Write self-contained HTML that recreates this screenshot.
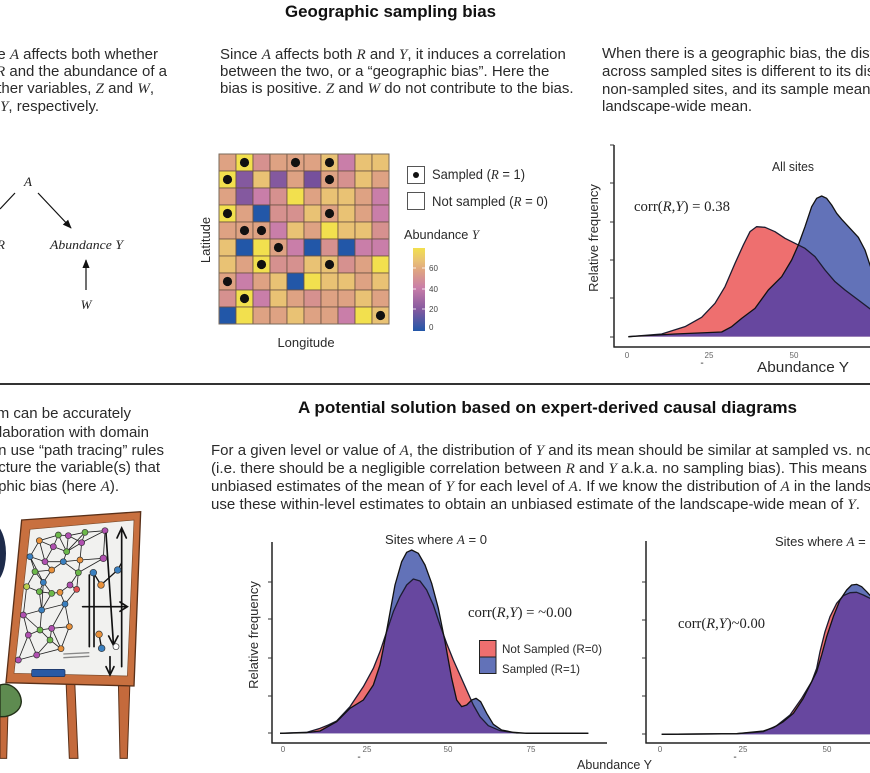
<!DOCTYPE html>
<html><head><meta charset="utf-8"><style>
html,body{margin:0;padding:0;background:#fff;}
svg{display:block;}
.t{font-family:"Liberation Sans",Arial,sans-serif;fill:#2a2a2a;}
.m{font-family:"Liberation Serif",serif;font-style:italic;}
.s{font-family:"Liberation Serif",serif;}
.tk{font-family:"Liberation Sans",Arial,sans-serif;fill:#666;font-size:8px;}
</style></head><body>
<svg width="870" height="773" viewBox="0 0 870 773" xmlns="http://www.w3.org/2000/svg">
<defs>
<marker id="ah" viewBox="0 0 10 10" refX="9" refY="5" markerWidth="9" markerHeight="9" markerUnits="userSpaceOnUse" orient="auto"><path d="M0,1 L10,5 L0,9 z" fill="#111"/></marker>
<linearGradient id="cb" x1="0" y1="1" x2="0" y2="0">
<stop offset="0" stop-color="#2257a8"/><stop offset="0.26" stop-color="#84599f"/><stop offset="0.52" stop-color="#c97ea9"/><stop offset="0.72" stop-color="#dea283"/><stop offset="0.85" stop-color="#e9c274"/><stop offset="1" stop-color="#f2e04e"/>
</linearGradient>
<clipPath id="c1"><path d="M160,620 L260,612 L330,590 L380,562 L420,520 L450,470 L480,400 L505,345 L525,305 L545,290 L570,292 L600,305 L630,325 L660,340 L690,355 L720,380 L750,420 L780,455 L810,480 L850,510 L890,540 L890,620 Z"/></clipPath>
<clipPath id="c2"><path d="M120,625 L200,622 L240,610 L265,600 L290,588 L330,545 L370,485 L400,430 L420,380 L440,320 L460,260 L480,215 L500,180 L520,162 L540,168 L560,195 L580,240 L600,300 L620,355 L640,405 L660,450 L680,495 L700,540 L720,575 L745,602 L780,617 L830,624 L1045,625 Z"/></clipPath>
<clipPath id="c3"><path d="M125,628 L350,626 L430,620 L470,602 L510,570 L545,520 L575,470 L590,430 L600,380 L615,320 L630,275 L650,235 L670,212 L690,203 L710,202 L730,210 L760,225 L760,628 Z"/></clipPath>
</defs>
<rect width="870" height="773" fill="#fff"/>

<text x="285" y="17" font-size="17" font-weight="bold" class="t" style="fill:#111" textLength="211" lengthAdjust="spacingAndGlyphs">Geographic sampling bias</text>

<g class="t" font-size="15">
<text x="158" y="59" text-anchor="end">Here the variable <tspan class="m">A</tspan> affects both whether</text>
<text x="167" y="76" text-anchor="end">a site is sampled <tspan class="m">R</tspan> and the abundance of a</text>
<text x="154" y="93" text-anchor="end">Two other variables, <tspan class="m">Z</tspan> and <tspan class="m">W</tspan>,</text>
<text x="99" y="111" text-anchor="end">affect <tspan class="m">R</tspan> and <tspan class="m">Y</tspan>, respectively.</text>
</g>
<g class="t" font-size="15">
<text x="220" y="59">Since <tspan class="m">A</tspan> affects both <tspan class="m">R</tspan> and <tspan class="m">Y</tspan>, it induces a correlation</text>
<text x="220" y="76">between the two, or a “geographic bias”. Here the</text>
<text x="220" y="93">bias is positive. <tspan class="m">Z</tspan> and <tspan class="m">W</tspan> do not contribute to the bias.</text>
</g>
<g class="t" font-size="15">
<text x="602" y="58">When there is a geographic bias, the distribution of Y</text>
<text x="602" y="76">across sampled sites is different to its distribution at</text>
<text x="602" y="94">non-sampled sites, and its sample mean is biased for the</text>
<text x="602" y="111">landscape-wide mean.</text>
</g>

<text x="28" y="186" font-size="13" class="m" text-anchor="middle" fill="#222">A</text>
<line x1="15" y1="193" x2="0" y2="209" stroke="#111" stroke-width="1.2"/>
<line x1="38" y1="193" x2="71" y2="228" stroke="#111" stroke-width="1.2" marker-end="url(#ah)"/>
<text x="-3" y="249" font-size="13" class="m" fill="#222">R</text>
<text x="50" y="249" font-size="13" class="m" fill="#222" textLength="73" lengthAdjust="spacingAndGlyphs">Abundance Y</text>
<line x1="86" y1="290" x2="86" y2="260" stroke="#111" stroke-width="1.2" marker-end="url(#ah)"/>
<text x="86" y="309" font-size="13" class="m" text-anchor="middle" fill="#222">W</text>

<g stroke="#6b5242" stroke-width="0.8">
<rect x="219" y="154" width="17" height="17" fill="#dea283"/><rect x="236" y="154" width="17" height="17" fill="#f2e04e"/><rect x="253" y="154" width="17" height="17" fill="#d6918f"/><rect x="270" y="154" width="17" height="17" fill="#dea283"/><rect x="287" y="154" width="17" height="17" fill="#dea283"/><rect x="304" y="154" width="17" height="17" fill="#dea283"/><rect x="321" y="154" width="17" height="17" fill="#e9c274"/><rect x="338" y="154" width="17" height="17" fill="#c97ea9"/><rect x="355" y="154" width="17" height="17" fill="#e9c274"/><rect x="372" y="154" width="17" height="17" fill="#e9c274"/>
<rect x="219" y="171" width="17" height="17" fill="#f2e04e"/><rect x="236" y="171" width="17" height="17" fill="#84599f"/><rect x="253" y="171" width="17" height="17" fill="#e9c274"/><rect x="270" y="171" width="17" height="17" fill="#84599f"/><rect x="287" y="171" width="17" height="17" fill="#dea283"/><rect x="304" y="171" width="17" height="17" fill="#76509c"/><rect x="321" y="171" width="17" height="17" fill="#dea283"/><rect x="338" y="171" width="17" height="17" fill="#d6918f"/><rect x="355" y="171" width="17" height="17" fill="#e9c274"/><rect x="372" y="171" width="17" height="17" fill="#dea283"/>
<rect x="219" y="188" width="17" height="17" fill="#dea283"/><rect x="236" y="188" width="17" height="17" fill="#84599f"/><rect x="253" y="188" width="17" height="17" fill="#c97ea9"/><rect x="270" y="188" width="17" height="17" fill="#d6918f"/><rect x="287" y="188" width="17" height="17" fill="#f2e04e"/><rect x="304" y="188" width="17" height="17" fill="#dea283"/><rect x="321" y="188" width="17" height="17" fill="#e9c274"/><rect x="338" y="188" width="17" height="17" fill="#e9c274"/><rect x="355" y="188" width="17" height="17" fill="#dea283"/><rect x="372" y="188" width="17" height="17" fill="#c97ea9"/>
<rect x="219" y="205" width="17" height="17" fill="#f2e04e"/><rect x="236" y="205" width="17" height="17" fill="#dea283"/><rect x="253" y="205" width="17" height="17" fill="#2257a8"/><rect x="270" y="205" width="17" height="17" fill="#d6918f"/><rect x="287" y="205" width="17" height="17" fill="#d6918f"/><rect x="304" y="205" width="17" height="17" fill="#e9c274"/><rect x="321" y="205" width="17" height="17" fill="#dea283"/><rect x="338" y="205" width="17" height="17" fill="#e9c274"/><rect x="355" y="205" width="17" height="17" fill="#dea283"/><rect x="372" y="205" width="17" height="17" fill="#c97ea9"/>
<rect x="219" y="222" width="17" height="17" fill="#dea283"/><rect x="236" y="222" width="17" height="17" fill="#dea283"/><rect x="253" y="222" width="17" height="17" fill="#dea283"/><rect x="270" y="222" width="17" height="17" fill="#c97ea9"/><rect x="287" y="222" width="17" height="17" fill="#e9c274"/><rect x="304" y="222" width="17" height="17" fill="#dea283"/><rect x="321" y="222" width="17" height="17" fill="#f2e04e"/><rect x="338" y="222" width="17" height="17" fill="#e9c274"/><rect x="355" y="222" width="17" height="17" fill="#e9c274"/><rect x="372" y="222" width="17" height="17" fill="#d6918f"/>
<rect x="219" y="239" width="17" height="17" fill="#e9c274"/><rect x="236" y="239" width="17" height="17" fill="#2257a8"/><rect x="253" y="239" width="17" height="17" fill="#f2e04e"/><rect x="270" y="239" width="17" height="17" fill="#dea283"/><rect x="287" y="239" width="17" height="17" fill="#c97ea9"/><rect x="304" y="239" width="17" height="17" fill="#2257a8"/><rect x="321" y="239" width="17" height="17" fill="#d6918f"/><rect x="338" y="239" width="17" height="17" fill="#2257a8"/><rect x="355" y="239" width="17" height="17" fill="#c97ea9"/><rect x="372" y="239" width="17" height="17" fill="#c97ea9"/>
<rect x="219" y="256" width="17" height="17" fill="#e9c274"/><rect x="236" y="256" width="17" height="17" fill="#dea283"/><rect x="253" y="256" width="17" height="17" fill="#f2e04e"/><rect x="270" y="256" width="17" height="17" fill="#d6918f"/><rect x="287" y="256" width="17" height="17" fill="#d6918f"/><rect x="304" y="256" width="17" height="17" fill="#e9c274"/><rect x="321" y="256" width="17" height="17" fill="#e9c274"/><rect x="338" y="256" width="17" height="17" fill="#d6918f"/><rect x="355" y="256" width="17" height="17" fill="#dea283"/><rect x="372" y="256" width="17" height="17" fill="#f2e04e"/>
<rect x="219" y="273" width="17" height="17" fill="#dea283"/><rect x="236" y="273" width="17" height="17" fill="#c97ea9"/><rect x="253" y="273" width="17" height="17" fill="#dea283"/><rect x="270" y="273" width="17" height="17" fill="#e9c274"/><rect x="287" y="273" width="17" height="17" fill="#2257a8"/><rect x="304" y="273" width="17" height="17" fill="#f2e04e"/><rect x="321" y="273" width="17" height="17" fill="#e9c274"/><rect x="338" y="273" width="17" height="17" fill="#e9c274"/><rect x="355" y="273" width="17" height="17" fill="#dea283"/><rect x="372" y="273" width="17" height="17" fill="#e9c274"/>
<rect x="219" y="290" width="17" height="17" fill="#d6918f"/><rect x="236" y="290" width="17" height="17" fill="#f2e04e"/><rect x="253" y="290" width="17" height="17" fill="#c97ea9"/><rect x="270" y="290" width="17" height="17" fill="#e9c274"/><rect x="287" y="290" width="17" height="17" fill="#dea283"/><rect x="304" y="290" width="17" height="17" fill="#d6918f"/><rect x="321" y="290" width="17" height="17" fill="#dea283"/><rect x="338" y="290" width="17" height="17" fill="#dea283"/><rect x="355" y="290" width="17" height="17" fill="#e9c274"/><rect x="372" y="290" width="17" height="17" fill="#dea283"/>
<rect x="219" y="307" width="17" height="17" fill="#2257a8"/><rect x="236" y="307" width="17" height="17" fill="#f2e04e"/><rect x="253" y="307" width="17" height="17" fill="#dea283"/><rect x="270" y="307" width="17" height="17" fill="#dea283"/><rect x="287" y="307" width="17" height="17" fill="#e9c274"/><rect x="304" y="307" width="17" height="17" fill="#dea283"/><rect x="321" y="307" width="17" height="17" fill="#dea283"/><rect x="338" y="307" width="17" height="17" fill="#c97ea9"/><rect x="355" y="307" width="17" height="17" fill="#f2e04e"/><rect x="372" y="307" width="17" height="17" fill="#e9c274"/>
</g>
<rect x="219" y="154" width="170" height="170" fill="none" stroke="#7a6a5a" stroke-width="1"/>
<g fill="#111">
<circle cx="244.5" cy="162.5" r="4.6"/><circle cx="295.5" cy="162.5" r="4.6"/><circle cx="329.5" cy="162.5" r="4.6"/>
<circle cx="227.5" cy="179.5" r="4.6"/><circle cx="329.5" cy="179.5" r="4.6"/>
<circle cx="227.5" cy="213.5" r="4.6"/><circle cx="329.5" cy="213.5" r="4.6"/>
<circle cx="244.5" cy="230.5" r="4.6"/><circle cx="261.5" cy="230.5" r="4.6"/>
<circle cx="278.5" cy="247.5" r="4.6"/>
<circle cx="261.5" cy="264.5" r="4.6"/><circle cx="329.5" cy="264.5" r="4.6"/>
<circle cx="227.5" cy="281.5" r="4.6"/>
<circle cx="244.5" cy="298.5" r="4.6"/>
<circle cx="380.5" cy="315.5" r="4.6"/>
</g>
<text transform="translate(210,240) rotate(-90)" text-anchor="middle" font-size="13" class="t">Latitude</text>
<text x="306" y="347" text-anchor="middle" font-size="13" class="t">Longitude</text>

<rect x="407.5" y="166.5" width="17" height="17" fill="#fff" stroke="#555" stroke-width="1"/>
<circle cx="416" cy="175" r="3" fill="#111"/>
<text x="432" y="179" font-size="14" class="t" textLength="93" lengthAdjust="spacingAndGlyphs">Sampled (<tspan class="m">R</tspan> = 1)</text>
<rect x="407.5" y="192.5" width="17" height="17" fill="#fff" stroke="#555" stroke-width="1"/>
<text x="432" y="206" font-size="14" class="t" textLength="116" lengthAdjust="spacingAndGlyphs">Not sampled (<tspan class="m">R</tspan> = 0)</text>
<text x="404" y="239" font-size="13" class="t" textLength="75" lengthAdjust="spacingAndGlyphs">Abundance <tspan class="m">Y</tspan></text>
<rect x="413" y="248" width="12" height="83" fill="url(#cb)"/>
<g stroke="#fff" stroke-width="0.8"><line x1="413" y1="268" x2="416" y2="268"/><line x1="422" y1="268" x2="425" y2="268"/><line x1="413" y1="289" x2="416" y2="289"/><line x1="422" y1="289" x2="425" y2="289"/><line x1="413" y1="309" x2="416" y2="309"/><line x1="422" y1="309" x2="425" y2="309"/></g>
<g class="tk" font-size="9" style="fill:#444"><text x="429" y="271">60</text><text x="429" y="292">40</text><text x="429" y="312">20</text><text x="429" y="330">0</text></g>

<g transform="translate(575,130) scale(0.333333)">
<path d="M160,620 L260,612 L330,590 L380,562 L420,520 L450,470 L480,400 L505,345 L525,305 L545,290 L570,292 L600,305 L630,325 L660,340 L690,355 L720,380 L750,420 L780,455 L810,480 L850,510 L890,540 L890,620 Z" fill="#ee6f6f"/>
<path d="M160,620 L300,612 L440,606 L470,590 L500,565 L540,535 L580,480 L620,440 L650,390 L670,345 L690,290 L710,230 L725,205 L740,198 L755,205 L770,225 L785,250 L800,268 L825,295 L850,322 L870,360 L890,420 L890,620 Z" fill="#6272b8"/>
<path clip-path="url(#c1)" d="M160,620 L300,612 L440,606 L470,590 L500,565 L540,535 L580,480 L620,440 L650,390 L670,345 L690,290 L710,230 L725,205 L740,198 L755,205 L770,225 L785,250 L800,268 L825,295 L850,322 L870,360 L890,420 L890,620 Z" fill="#67479f"/>
<path d="M160,620 L260,612 L330,590 L380,562 L420,520 L450,470 L480,400 L505,345 L525,305 L545,290 L570,292 L600,305 L630,325 L660,340 L690,355 L720,380 L750,420 L780,455 L810,480 L850,510 L890,540" fill="none" stroke="#1c1c30" stroke-width="1.3" vector-effect="non-scaling-stroke" stroke-linejoin="round"/>
<path d="M160,620 L300,612 L440,606 L470,590 L500,565 L540,535 L580,480 L620,440 L650,390 L670,345 L690,290 L710,230 L725,205 L740,198 L755,205 L770,225 L785,250 L800,268 L825,295 L850,322 L870,360 L890,420" fill="none" stroke="#111" stroke-width="1.3" vector-effect="non-scaling-stroke" stroke-linejoin="round"/>
</g>
<g stroke="#222" stroke-width="1.5" fill="none">
<line x1="614" y1="145" x2="614" y2="347.5"/><line x1="613.5" y1="347" x2="870" y2="347"/>
</g>
<g stroke="#333" stroke-width="1"><line x1="610" y1="145" x2="614" y2="145"/><line x1="610" y1="183" x2="614" y2="183"/><line x1="610" y1="222" x2="614" y2="222"/><line x1="610" y1="260" x2="614" y2="260"/><line x1="610" y1="298" x2="614" y2="298"/><line x1="610" y1="337" x2="614" y2="337"/></g>
<g class="tk" text-anchor="middle"><text x="627" y="358">0</text><text x="709" y="358">25</text><text x="794" y="358">50</text></g>
<text x="702" y="366" font-size="10" class="t" text-anchor="middle">-</text>
<text x="757" y="372" font-size="14.5" class="t" textLength="92" lengthAdjust="spacingAndGlyphs">Abundance Y</text>
<text transform="translate(598,238) rotate(-90)" text-anchor="middle" font-size="13" class="t">Relative frequency</text>
<text x="772" y="171" font-size="12.5" class="t" textLength="42" lengthAdjust="spacingAndGlyphs">All sites</text>
<text x="634" y="211" font-size="15" class="s" fill="#222" textLength="96" lengthAdjust="spacingAndGlyphs">corr(<tspan class="m">R</tspan>,<tspan class="m">Y</tspan>) = 0.38</text>

<line x1="0" y1="384" x2="870" y2="384" stroke="#333" stroke-width="2"/>

<text x="298" y="413" font-size="16.5" font-weight="bold" class="t" style="fill:#111" textLength="499" lengthAdjust="spacingAndGlyphs">A potential solution based on expert-derived causal diagrams</text>
<g class="t" font-size="15">
<text x="131" y="418" text-anchor="end">The causal diagram can be accurately</text>
<text x="149" y="437" text-anchor="end">derived in collaboration with domain</text>
<text x="164" y="455" text-anchor="end">experts. We can use “path tracing” rules</text>
<text x="160" y="472" text-anchor="end">to identify and picture the variable(s) that</text>
<text x="119" y="491" text-anchor="end">cause the geographic bias (here <tspan class="m">A</tspan>).</text>
</g>
<g class="t" font-size="15">
<text x="211" y="455" textLength="662" lengthAdjust="spacingAndGlyphs">For a given level or value of <tspan class="m">A</tspan>, the distribution of <tspan class="m">Y</tspan> and its mean should be similar at sampled vs. no</text>
<text x="211" y="473" textLength="656" lengthAdjust="spacingAndGlyphs">(i.e. there should be a negligible correlation between <tspan class="m">R</tspan> and <tspan class="m">Y</tspan> a.k.a. no sampling bias). This means</text>
<text x="211" y="491" textLength="660" lengthAdjust="spacingAndGlyphs">unbiased estimates of the mean of <tspan class="m">Y</tspan> for each level of <tspan class="m">A</tspan>. If we know the distribution of <tspan class="m">A</tspan> in the lands</text>
<text x="211" y="509" textLength="649" lengthAdjust="spacingAndGlyphs">use these within-level estimates to obtain an unbiased estimate of the landscape-wide mean of <tspan class="m">Y</tspan>.</text>
</g>

<g transform="translate(0,380) scale(0.333333)">
<ellipse cx="-30" cy="520" rx="48" ry="95" fill="#1e2b4a"/>
<polygon points="0,990 24,990 20,1135 0,1135" fill="#c46a3c" stroke="#5a3018" stroke-width="3"/>
<polygon points="198,900 224,900 234,1135 208,1135" fill="#c46a3c" stroke="#5a3018" stroke-width="3"/>
<polygon points="355,900 390,900 382,1135 360,1135" fill="#c46a3c" stroke="#5a3018" stroke-width="3"/>
<polygon points="65,420 422,395 402,918 18,908" fill="#c8703f" stroke="#5a3018" stroke-width="4"/>
<polygon points="90,448 402,420 382,888 42,880" fill="#f1f1ef" stroke="#7a4a2a" stroke-width="2"/>
<rect x="95" y="868" width="100" height="22" rx="5" fill="#2a5aa6" stroke="#1a2a50" stroke-width="2"/>
<path d="M0,915 C30,905 62,930 64,965 C62,995 30,1012 0,1010 Z" fill="#5e8b50" stroke="#223018" stroke-width="4"/>
<g stroke="#222" stroke-width="2.5" fill="none">
<path d="M118,482 L175,465 M118,482 L160,500 M118,482 L90,530 M175,465 L205,467 M175,465 L160,500 M205,467 L255,457 M205,467 L200,515 M255,457 L315,452 M255,457 L245,488 M315,452 L245,488 M315,452 L310,535 M160,500 L135,545 M160,500 L200,515 M90,530 L135,545 M90,530 L105,575 M135,545 L155,570 M135,545 L190,545 M200,515 L245,488 M200,515 L190,545 M245,488 L240,540 M240,540 L310,535 M240,540 L235,578 M240,540 L190,545 M105,575 L155,570 M105,575 L130,607 M105,575 L80,620 M155,570 L130,607 M155,570 L190,545 M190,545 L235,578 M235,578 L210,615 M235,578 L230,628 M130,607 L118,635 M130,607 L155,640 M80,620 L118,635 M118,635 L155,640 M155,640 L180,637 M180,637 L210,615 M210,615 L230,628 M130,607 L125,690 M155,640 L125,690 M180,637 L195,672 M230,628 L195,672 M125,690 L195,672 M125,690 L70,705 M125,690 L120,750 M195,672 L155,745 M195,672 L208,740 M70,705 L120,750 M120,750 L155,745 M155,745 L208,740 M70,705 L85,765 M120,750 L85,765 M120,750 L150,780 M155,745 L150,780 M208,740 L183,806 M150,780 L183,806 M85,765 L110,825 M150,780 L110,825 M110,825 L55,840 M85,765 L55,840 M110,825 L183,806 M205,467 L245,488 M310,535 L235,578 M90,530 L130,607 M80,620 L70,705 M118,635 L125,690 M155,745 L183,806 M118,482 L135,545 M175,465 L200,515 M255,457 L200,515"/>
</g>
<g stroke="#333" stroke-width="2">
<circle cx="118" cy="482" r="9" fill="#e8903a"/><circle cx="175" cy="465" r="9" fill="#6cb84a"/><circle cx="205" cy="467" r="9" fill="#b050b0"/><circle cx="255" cy="457" r="9" fill="#6cb84a"/><circle cx="315" cy="452" r="9" fill="#b050b0"/><circle cx="160" cy="500" r="9" fill="#b050b0"/><circle cx="90" cy="530" r="9" fill="#3a80c0"/><circle cx="135" cy="545" r="9" fill="#b050b0"/><circle cx="200" cy="515" r="9" fill="#6cb84a"/><circle cx="245" cy="488" r="9" fill="#b050b0"/><circle cx="240" cy="540" r="9" fill="#e8903a"/><circle cx="310" cy="535" r="9" fill="#b050b0"/><circle cx="105" cy="575" r="9" fill="#6cb84a"/><circle cx="155" cy="570" r="9" fill="#e8903a"/><circle cx="190" cy="545" r="9" fill="#3a80c0"/><circle cx="235" cy="578" r="9" fill="#6cb84a"/><circle cx="130" cy="607" r="9" fill="#3a80c0"/><circle cx="80" cy="620" r="9" fill="#b8d050"/><circle cx="118" cy="635" r="9" fill="#6cb84a"/><circle cx="155" cy="640" r="9" fill="#6cb84a"/><circle cx="180" cy="637" r="9" fill="#e8903a"/><circle cx="210" cy="615" r="9" fill="#b050b0"/><circle cx="230" cy="628" r="9" fill="#e05050"/><circle cx="125" cy="690" r="9" fill="#3a80c0"/><circle cx="195" cy="672" r="9" fill="#3a80c0"/><circle cx="70" cy="705" r="9" fill="#b050b0"/><circle cx="120" cy="750" r="9" fill="#6cb84a"/><circle cx="155" cy="745" r="9" fill="#b050b0"/><circle cx="208" cy="740" r="9" fill="#e8903a"/><circle cx="85" cy="765" r="9" fill="#b050b0"/><circle cx="150" cy="780" r="9" fill="#6cb84a"/><circle cx="110" cy="825" r="9" fill="#b050b0"/><circle cx="183" cy="806" r="9" fill="#e8903a"/><circle cx="55" cy="840" r="9" fill="#b050b0"/>
</g>
<g stroke="#111" stroke-width="5" fill="none" stroke-linecap="round">
<line x1="365" y1="860" x2="365" y2="448"/><polyline points="351,474 365,444 379,474"/>
<line x1="318" y1="460" x2="340" y2="788"/><polyline points="326,768 340,795 354,768"/>
<line x1="268" y1="585" x2="268" y2="800"/><line x1="282" y1="585" x2="282" y2="800"/>
<line x1="248" y1="680" x2="380" y2="680"/><polyline points="360,666 382,680 360,694"/>
<line x1="330" y1="830" x2="330" y2="880"/><polyline points="318,860 330,885 342,860"/>
<polyline points="280,578 303,615 353,570 365,548" stroke-width="4"/>
<line x1="297" y1="763" x2="305" y2="805" stroke-width="4"/>
</g>
<g stroke="#888" stroke-width="4"><line x1="190" y1="822" x2="268" y2="818"/><line x1="190" y1="833" x2="268" y2="829"/></g>
<g stroke="#333" stroke-width="2">
<circle cx="280" cy="578" r="10" fill="#3a80c0"/><circle cx="303" cy="615" r="10" fill="#e8903a"/><circle cx="353" cy="570" r="10" fill="#3a80c0"/><circle cx="310" cy="535" r="10" fill="#b050b0"/><circle cx="297" cy="763" r="10" fill="#e8903a"/><circle cx="305" cy="805" r="10" fill="#3a80c0"/><circle cx="348" cy="800" r="9" fill="#fff"/>
</g>
</g>

<g transform="translate(240,525) scale(0.333333)">
<path d="M120,625 L200,622 L240,610 L265,600 L290,588 L330,545 L370,485 L400,430 L420,380 L440,320 L460,260 L480,215 L500,180 L520,162 L540,168 L560,195 L580,240 L600,300 L620,355 L640,405 L660,450 L680,495 L700,540 L720,575 L745,602 L780,617 L830,624 L1045,625 Z" fill="#ee6f6f"/>
<path d="M120,625 L200,623 L240,618 L290,590 L330,550 L370,525 L400,480 L420,420 L430,370 L445,290 L465,180 L485,110 L500,82 L515,75 L535,85 L555,120 L575,175 L595,250 L615,350 L635,460 L650,525 L665,545 L680,540 L695,525 L708,520 L722,530 L740,565 L760,598 L785,615 L820,622 L860,625 L1045,625 Z" fill="#6272b8"/>
<path clip-path="url(#c2)" d="M120,625 L200,623 L240,618 L290,590 L330,550 L370,525 L400,480 L420,420 L430,370 L445,290 L465,180 L485,110 L500,82 L515,75 L535,85 L555,120 L575,175 L595,250 L615,350 L635,460 L650,525 L665,545 L680,540 L695,525 L708,520 L722,530 L740,565 L760,598 L785,615 L820,622 L860,625 L1045,625 Z" fill="#67479f"/>
<path d="M120,625 L200,622 L240,610 L265,600 L290,588 L330,545 L370,485 L400,430 L420,380 L440,320 L460,260 L480,215 L500,180 L520,162 L540,168 L560,195 L580,240 L600,300 L620,355 L640,405 L660,450 L680,495 L700,540 L720,575 L745,602 L780,617 L830,624 L1045,625" fill="none" stroke="#1c1c30" stroke-width="1.3" vector-effect="non-scaling-stroke" stroke-linejoin="round"/>
<path d="M120,625 L200,623 L240,618 L290,590 L330,550 L370,525 L400,480 L420,420 L430,370 L445,290 L465,180 L485,110 L500,82 L515,75 L535,85 L555,120 L575,175 L595,250 L615,350 L635,460 L650,525 L665,545 L680,540 L695,525 L708,520 L722,530 L740,565 L760,598 L785,615 L820,622 L860,625 L1045,625" fill="none" stroke="#111" stroke-width="1.3" vector-effect="non-scaling-stroke" stroke-linejoin="round"/>
</g>
<g stroke="#222" stroke-width="1.5"><line x1="272" y1="542" x2="272" y2="743.5"/><line x1="271.5" y1="743" x2="607" y2="743"/></g>
<g stroke="#333" stroke-width="1"><line x1="268" y1="582" x2="272" y2="582"/><line x1="268" y1="619" x2="272" y2="619"/><line x1="268" y1="658" x2="272" y2="658"/><line x1="268" y1="696" x2="272" y2="696"/><line x1="268" y1="733" x2="272" y2="733"/></g>
<g class="tk" text-anchor="middle"><text x="283" y="752">0</text><text x="367" y="752">25</text><text x="448" y="752">50</text><text x="531" y="752">75</text></g>
<text x="359" y="760" font-size="10" class="t" text-anchor="middle">-</text>
<text transform="translate(258,635) rotate(-90)" text-anchor="middle" font-size="13" class="t">Relative frequency</text>
<text x="385" y="544" font-size="13" class="t" textLength="102" lengthAdjust="spacingAndGlyphs">Sites where <tspan class="m">A</tspan> = 0</text>
<text x="468" y="617" font-size="15" class="s" fill="#222" textLength="104" lengthAdjust="spacingAndGlyphs">corr(<tspan class="m">R</tspan>,<tspan class="m">Y</tspan>) = ~0.00</text>
<rect x="479.5" y="640.5" width="16.5" height="16.5" fill="#ee6f6f" stroke="#222" stroke-width="1"/>
<rect x="479.5" y="657" width="16.5" height="16.5" fill="#6272b8" stroke="#222" stroke-width="1"/>
<text x="502" y="653" font-size="12" class="t" textLength="100" lengthAdjust="spacingAndGlyphs">Not Sampled (R=0)</text>
<text x="502" y="673" font-size="12" class="t" textLength="78" lengthAdjust="spacingAndGlyphs">Sampled (R=1)</text>
<text x="577" y="769" font-size="12.5" class="t" textLength="75" lengthAdjust="spacingAndGlyphs">Abundance Y</text>

<g transform="translate(620,525) scale(0.333333)">
<path d="M125,628 L350,626 L430,620 L470,602 L510,570 L545,520 L575,470 L590,430 L600,380 L615,320 L630,275 L650,235 L670,212 L690,203 L710,202 L730,210 L760,225 L760,628 Z" fill="#ee6f6f"/>
<path d="M125,628 L350,626 L430,618 L460,608 L490,590 L520,565 L550,520 L575,470 L590,440 L605,390 L620,335 L640,275 L660,225 L680,195 L695,180 L710,178 L725,185 L740,200 L760,222 L760,628 Z" fill="#6272b8"/>
<path clip-path="url(#c3)" d="M125,628 L350,626 L430,618 L460,608 L490,590 L520,565 L550,520 L575,470 L590,440 L605,390 L620,335 L640,275 L660,225 L680,195 L695,180 L710,178 L725,185 L740,200 L760,222 L760,628 Z" fill="#67479f"/>
<path d="M125,628 L350,626 L430,620 L470,602 L510,570 L545,520 L575,470 L590,430 L600,380 L615,320 L630,275 L650,235 L670,212 L690,203 L710,202 L730,210 L760,225" fill="none" stroke="#1c1c30" stroke-width="1.3" vector-effect="non-scaling-stroke" stroke-linejoin="round"/>
<path d="M125,628 L350,626 L430,618 L460,608 L490,590 L520,565 L550,520 L575,470 L590,440 L605,390 L620,335 L640,275 L660,225 L680,195 L695,180 L710,178 L725,185 L740,200 L760,222" fill="none" stroke="#111" stroke-width="1.3" vector-effect="non-scaling-stroke" stroke-linejoin="round"/>
</g>
<g stroke="#222" stroke-width="1.5"><line x1="646" y1="541" x2="646" y2="743.5"/><line x1="645.5" y1="743" x2="870" y2="743"/></g>
<g stroke="#333" stroke-width="1"><line x1="642" y1="582" x2="646" y2="582"/><line x1="642" y1="620" x2="646" y2="620"/><line x1="642" y1="658" x2="646" y2="658"/><line x1="642" y1="696" x2="646" y2="696"/><line x1="642" y1="734" x2="646" y2="734"/></g>
<g class="tk" text-anchor="middle"><text x="660" y="752">0</text><text x="743" y="752">25</text><text x="827" y="752">50</text></g>
<text x="735" y="760" font-size="10" class="t" text-anchor="middle">-</text>
<text x="775" y="546" font-size="13" class="t">Sites where <tspan class="m">A</tspan> = 1</text>
<text x="678" y="628" font-size="15" class="s" fill="#222" textLength="87" lengthAdjust="spacingAndGlyphs">corr(<tspan class="m">R</tspan>,<tspan class="m">Y</tspan>)~0.00</text>
</svg>
</body></html>
